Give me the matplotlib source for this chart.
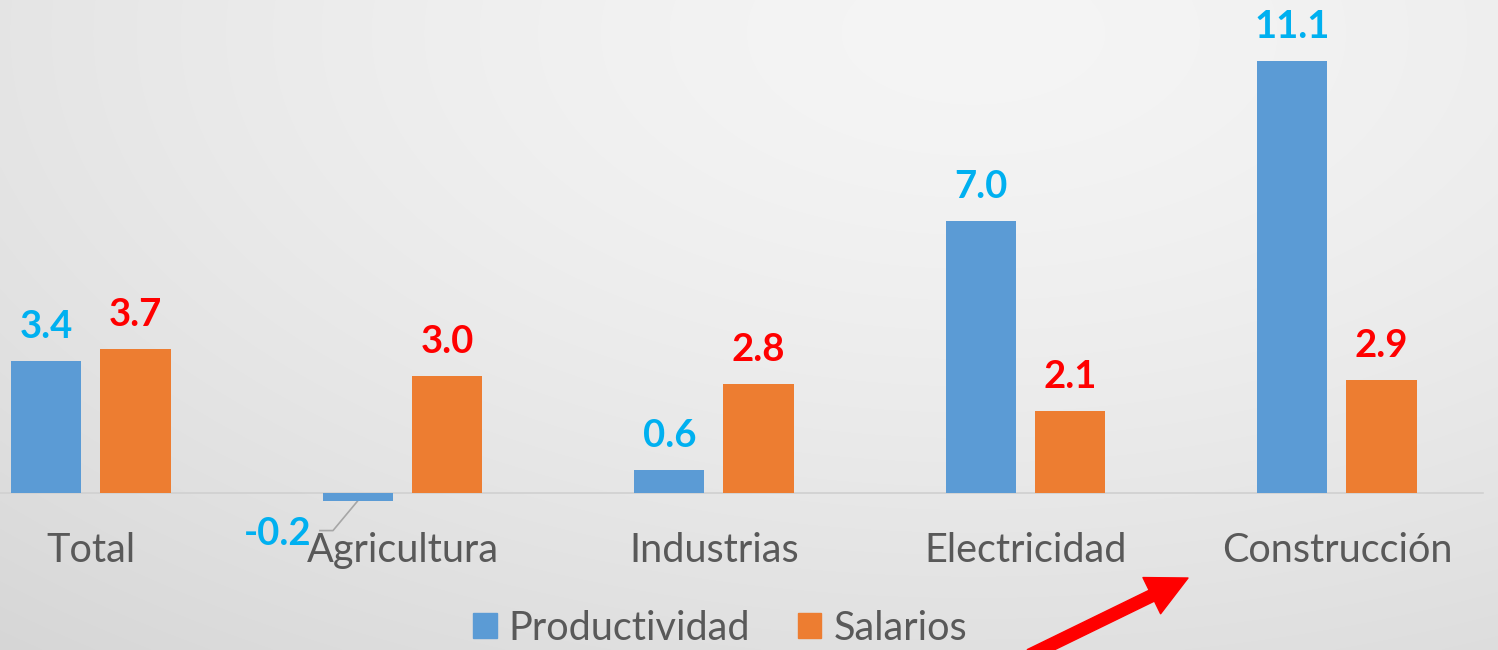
"""Productividad vs salarios por sector (bar chart recreation)."""

import numpy as np
import matplotlib.pyplot as plt
from matplotlib.patches import Patch

plt.rcParams["font.family"] = ["Lato", "DejaVu Sans"]

categories = ["Total", "Agricultura", "Industrias", "Electricidad", "Construcción"]
productividad = [3.4, -0.2, 0.6, 7.0, 11.1]
salarios = [3.7, 3.0, 2.8, 2.1, 2.9]
series_names = ["Productividad", "Salarios"]

BLUE = "#5B9BD5"
ORANGE = "#ED7D31"
BLUE_TXT = "#00B0F0"
RED_TXT = "#FF0000"
GRAY_TXT = "#595959"


def main() -> None:
    fig = plt.figure(figsize=(14.98, 6.5), dpi=100)

    # soft radial background
    bg = fig.add_axes([0, 0, 1, 1], zorder=0)
    yy, xx = np.mgrid[0:1:400j, 0:1:900j]
    dist = np.sqrt((xx - 0.65) ** 2 + ((yy - 0.05) * 0.8) ** 2)
    shade = 0.96 - 0.12 * dist ** 1.5
    rgb = np.dstack([shade, shade, shade])
    bg.imshow(rgb, aspect="auto", extent=[0, 1, 1, 0],
              interpolation="bilinear")
    bg.axis("off")

    ax = fig.add_axes([0, 0, 1, 1], zorder=1)
    ax.set_facecolor("none")
    ax.axis("off")
    ax.set_xlim(-0.292, 4.517)
    ax.set_ylim(-4.04, 12.67)

    x = np.arange(len(categories))
    off, width = 0.143, 0.225
    ax.bar(x - off, productividad, width, color=BLUE, zorder=3)
    ax.bar(x + off, salarios, width, color=ORANGE, zorder=3)
    ax.plot([-0.5, 4.47], [0, 0], color="#D0D0D0", lw=1.2, zorder=2)

    label_kw = dict(textcoords="offset points", ha="center", va="baseline",
                    fontsize=27.5, fontweight="bold")
    for xi, val in zip(x - off, productividad):
        if val >= 0:
            ax.annotate(f"{val:.1f}", (xi, val), xytext=(0, 16.5),
                        color=BLUE_TXT, **label_kw)
        else:
            ax.annotate(f"{val:.1f}", (xi, val), xytext=(-58, -32),
                        color=BLUE_TXT, **label_kw)
            ax.plot([xi, xi - 0.08, xi - 0.122],
                    [val, val - 0.77, val - 0.77],
                    color="#A6A6A6", lw=1.2, zorder=2)
    for xi, val in zip(x + off, salarios):
        ax.annotate(f"{val:.1f}", (xi, val), xytext=(0, 16.5),
                    color=RED_TXT, **label_kw)

    for xi, name in zip(x, categories):
        ax.annotate(name, (xi, 0), xytext=(0, -49.7), textcoords="offset points",
                    ha="center", va="baseline", fontsize=28.5, color=GRAY_TXT)

    handles = [Patch(color=BLUE), Patch(color=ORANGE)]
    leg = fig.legend(handles, series_names, loc="center",
                     bbox_to_anchor=(720 / 1498, 1 - 628 / 650),
                     ncol=2, frameon=False, fontsize=28.5,
                     handlelength=0.6, handleheight=0.6,
                     handletextpad=0.3, columnspacing=1.2,
                     borderpad=0, borderaxespad=0)
    for t in leg.get_texts():
        t.set_color(GRAY_TXT)

    # red arrow pointing at Construcción (figure pixels, origin bottom-left)
    ax.annotate("", xy=(1188, 650 - 578), xycoords="figure pixels",
                xytext=(1030, 650 - 655), textcoords="figure pixels",
                arrowprops=dict(arrowstyle="simple,head_length=1.0,head_width=1.0,tail_width=0.3",
                                mutation_scale=29, color="#FF0000",
                                shrinkA=0, shrinkB=0),
                annotation_clip=False)

    fig.savefig("out.png", dpi=100)
    plt.close(fig)


if __name__ == "__main__":
    main()
